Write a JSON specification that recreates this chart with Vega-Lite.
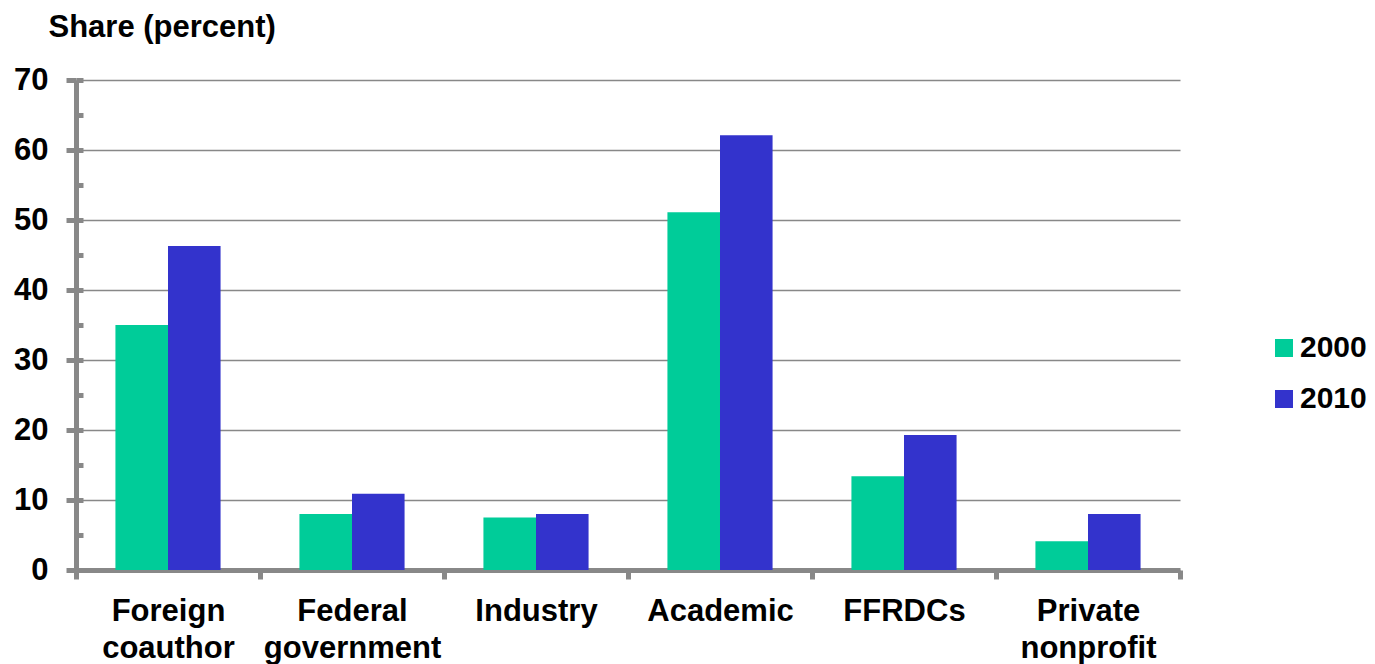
{
  "$schema": "https://vega.github.io/schema/vega-lite/v6.json",
  "width": 1104,
  "height": 490,
  "autosize": "none",
  "padding": {"left": 76, "top": 80, "right": 195, "bottom": 94},
  "config": {
    "font": "Liberation Sans",
    "view": {"stroke": null},
    "axis": {"labelColor": "#000000", "labelFontWeight": "bold", "labelFontSize": 31}
  },
  "data": {
    "values": [
      {"sector": "Foreign coauthor", "year": "2000", "share": 35.0},
      {"sector": "Foreign coauthor", "year": "2010", "share": 46.3},
      {"sector": "Federal government", "year": "2000", "share": 8.0},
      {"sector": "Federal government", "year": "2010", "share": 10.9},
      {"sector": "Industry", "year": "2000", "share": 7.5},
      {"sector": "Industry", "year": "2010", "share": 8.0},
      {"sector": "Academic", "year": "2000", "share": 51.1},
      {"sector": "Academic", "year": "2010", "share": 62.1},
      {"sector": "FFRDCs", "year": "2000", "share": 13.4},
      {"sector": "FFRDCs", "year": "2010", "share": 19.3},
      {"sector": "Private nonprofit", "year": "2000", "share": 4.1},
      {"sector": "Private nonprofit", "year": "2010", "share": 8.0}
    ]
  },
  "layer": [
    {
      "mark": {"type": "bar"},
      "encoding": {
        "x": {
          "field": "sector",
          "type": "nominal",
          "sort": null,
          "scale": {"paddingInner": 0, "paddingOuter": 0},
          "axis": {
            "title": null,
            "labelAngle": 0,
            "labelExpr": "split(datum.label, ' ')",
            "labelLineHeight": 37,
            "labelPadding": 17,
            "labelBaseline": "top",
            "domainColor": "#888888",
            "domainWidth": 5,
            "tickBand": "extent",
            "tickColor": "#888888",
            "tickWidth": 5,
            "tickSize": 9,
            "grid": false
          }
        },
        "xOffset": {
          "field": "year",
          "type": "nominal",
          "scale": {"paddingInner": 0, "paddingOuter": 0.75}
        },
        "y": {
          "field": "share",
          "type": "quantitative",
          "stack": null,
          "scale": {"domain": [0, 70], "nice": false},
          "axis": {
            "orient": "left",
            "values": [0, 10, 20, 30, 40, 50, 60, 70],
            "title": "Share (percent)",
            "titleAngle": 0,
            "titleAlign": "left",
            "titleBaseline": "alphabetic",
            "titleX": -28,
            "titleY": -44,
            "titleFontSize": 31,
            "titleFontWeight": "bold",
            "titleColor": "#000000",
            "labelPadding": 18,
            "domainColor": "#888888",
            "domainWidth": 5,
            "tickColor": "#888888",
            "tickWidth": 5,
            "tickSize": 10,
            "grid": true,
            "gridColor": "#888888",
            "gridWidth": 1.5
          }
        },
        "color": {
          "field": "year",
          "type": "nominal",
          "scale": {"domain": ["2000", "2010"], "range": ["#00CC99", "#3333CC"]},
          "legend": {
            "title": null,
            "orient": "none",
            "legendX": 1193,
            "legendY": 253,
            "padding": 0,
            "symbolType": "square",
            "symbolSize": 324,
            "symbolStrokeWidth": 0,
            "symbolOpacity": 1,
            "labelFontSize": 30,
            "labelFontWeight": "bold",
            "labelColor": "#000000",
            "labelOffset": 1,
            "rowPadding": 21
          }
        }
      }
    },
    {
      "mark": {"type": "bar", "opacity": 0},
      "encoding": {
        "y": {
          "field": "share",
          "type": "quantitative",
          "stack": null,
          "scale": {"domain": [0, 70], "nice": false},
          "axis": {
            "orient": "left",
            "values": [0, 5, 10, 15, 20, 25, 30, 35, 40, 45, 50, 55, 60, 65, 70],
            "title": null,
            "labels": false,
            "domain": false,
            "grid": false,
            "tickColor": "#888888",
            "tickWidth": 5,
            "tickSize": -7
          }
        }
      }
    }
  ],
  "resolve": {"axis": {"y": "independent"}}
}
